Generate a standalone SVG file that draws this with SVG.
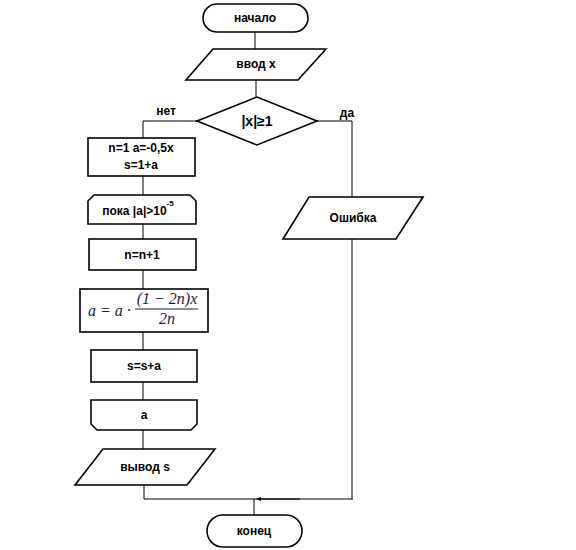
<svg xmlns="http://www.w3.org/2000/svg" width="576" height="550" viewBox="0 0 576 550">
<style>
.s{fill:#fff;stroke:#000;stroke-width:1.6}
.c{fill:none;stroke:#000;stroke-width:1}
.t{font-family:"Liberation Sans",Arial,sans-serif;font-weight:bold;font-size:12px;text-anchor:middle;fill:#000}
.m{font-family:"Liberation Serif","Times New Roman",serif;font-style:italic;font-size:16px;fill:#1b1b3a}
</style>
<defs>
<marker id="ah" markerWidth="5" markerHeight="4" refX="4" refY="2" orient="auto" markerUnits="userSpaceOnUse">
<path d="M0,0 L5,2 L0,4 z" fill="#000"/>
</marker>
</defs>
<rect width="576" height="550" fill="#fff"/>
<g id="connectors">
<path class="c" d="M255,32 V49"/>
<path class="c" d="M256,80 V97"/>
<path class="c" d="M197,121 H143 V138"/>
<path class="c" d="M317,121 H352 V197"/>
<path class="c" d="M143,176 V195"/>
<path class="c" d="M143,224 V239"/>
<path class="c" d="M143,270 V289"/>
<path class="c" d="M143,332 V350"/>
<path class="c" d="M143,382 V400"/>
<path class="c" d="M143,430 V449"/>
<path class="c" d="M144,485 V499 H353"/>
<path class="c" d="M352,239 V499"/>
<path class="c" d="M300,499 H257" marker-end="url(#ah)"/>
<path class="c" d="M254,499 V515"/>
</g>
<g id="start">
<rect class="s" x="203" y="4" width="105" height="28" rx="14"/>
<text class="t" x="255" y="22">начало</text>
</g>
<g id="input">
<polygon class="s" points="213,49 326,49 298,80 186,80"/>
<text class="t" x="256" y="68">ввод х</text>
</g>
<g id="decision">
<polygon class="s" points="197,121 257,97 317,121 257,145"/>
<text class="t" x="257" y="126" style="font-size:14px">|x|≥1</text>
</g>
<text class="t" x="166" y="115">нет</text>
<text class="t" x="347" y="117">да</text>
<g id="init">
<rect class="s" x="88" y="138" width="107" height="38"/>
<text class="t" x="141" y="152">n=1 a=-0,5x</text>
<text class="t" x="141" y="169">s=1+a</text>
</g>
<g id="loopstart">
<polygon class="s" points="94,195 190,195 196,201 196,224 88,224 88,201"/>
<text class="t" x="138" y="215">пока |a|&gt;10<tspan dy="-9" style="font-size:8px">-5</tspan></text>
</g>
<g id="incr">
<rect class="s" x="89" y="239" width="107" height="31"/>
<text class="t" x="142" y="259">n=n+1</text>
</g>
<g id="formula">
<rect class="s" x="80" y="289" width="128" height="43"/>
<text class="m" x="88" y="316">a = a ·</text>
<text class="m" x="167" y="304" text-anchor="middle">(1 − 2n)x</text>
<line x1="135" y1="309" x2="198" y2="309" stroke="#1b1b3a" stroke-width="1"/>
<text class="m" x="167" y="324" text-anchor="middle">2n</text>
</g>
<g id="sum">
<rect class="s" x="91" y="350" width="106" height="32"/>
<text class="t" x="144" y="370">s=s+a</text>
</g>
<g id="loopend">
<polygon class="s" points="91,400 197,400 197,424 191,430 97,430 91,424"/>
<text class="t" x="144" y="419">a</text>
</g>
<g id="output">
<polygon class="s" points="103,449 215,449 187,485 75,485"/>
<text class="t" x="145" y="471">вывод s</text>
</g>
<g id="error">
<polygon class="s" points="309,197 423,197 396,239 283,239"/>
<text class="t" x="353" y="222">Ошибка</text>
</g>
<g id="end">
<rect class="s" x="207" y="515" width="95" height="32" rx="16"/>
<text class="t" x="254" y="535">конец</text>
</g>
</svg>
